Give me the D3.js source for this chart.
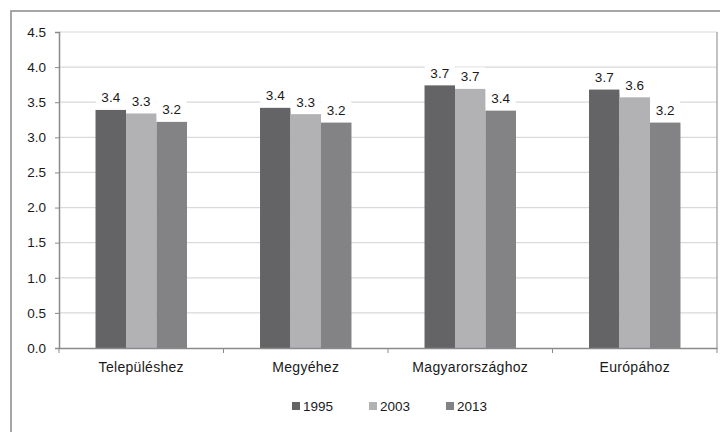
<!DOCTYPE html>
<html>
<head>
<meta charset="utf-8">
<script src="https://cdn.jsdelivr.net/npm/d3@7"></script>
<style>
  body { margin: 0; background: #fff; }
  svg text { font-family: "Liberation Sans", Arial, sans-serif; fill: #1a1a1a; }
</style>
</head>
<body>
<div id="chart"></div>
<script>
(function(){

    var categories = ["Településhez", "Megyéhez", "Magyarországhoz", "Európához"];
    var series = ["1995", "2003", "2013"];
    var values1995 = [3.39, 3.42, 3.74, 3.68];
    var values2003 = [3.34, 3.33, 3.69, 3.57];
    var values2013 = [3.22, 3.21, 3.38, 3.21];
    var yTicks = [0, 0.5, 1, 1.5, 2, 2.5, 3, 3.5, 4, 4.5];
    var colors = ["#646466", "#b2b2b4", "#838385"];

    var allValues = [values1995, values2003, values2013];

    var width = 720, height = 432;
    var left = 59, right = 717, top = 32, bottom = 348;

    var svg = d3.select("#chart")
        .append("svg")
        .attr("width", width)
        .attr("height", height);

    // outer frame (runs off the right and bottom edges)
    svg.append("rect")
        .attr("x", 11).attr("y", 11)
        .attr("width", 720).attr("height", 440)
        .attr("fill", "none")
        .attr("stroke", "#909090")
        .attr("stroke-width", 1.6);

    var y = d3.scaleLinear().domain([0, 4.5]).range([bottom, top]);
    var x0 = d3.scaleBand().domain(categories).range([left, right]);
    var bw = x0.bandwidth();
    var x1 = d3.scaleBand().domain(series).range([bw * 0.222, bw * 0.778]);

    // gridlines
    svg.append("g")
        .selectAll("line")
        .data(yTicks.filter(function(d){ return d > 0; }))
        .enter()
        .append("line")
        .attr("x1", left).attr("x2", right)
        .attr("y1", function(d){ return y(d); })
        .attr("y2", function(d){ return y(d); })
        .attr("stroke", "#d9d9d9")
        .attr("stroke-width", 1.2);

    // right border of plot
    svg.append("line")
        .attr("x1", right).attr("x2", right)
        .attr("y1", top).attr("y2", bottom)
        .attr("stroke", "#9a9a9a").attr("stroke-width", 1.2);

    // bars
    var groups = svg.append("g")
        .selectAll("g")
        .data(categories)
        .enter()
        .append("g")
        .attr("transform", function(d){ return "translate(" + x0(d) + ",0)"; });

    groups.selectAll("rect")
        .data(function(c, ci){
            return series.map(function(s, si){ return {s: s, si: si, v: allValues[si][ci]}; });
        })
        .enter()
        .append("rect")
        .attr("x", function(d){ return x1(d.s); })
        .attr("width", x1.bandwidth())
        .attr("y", function(d){ return y(d.v); })
        .attr("height", function(d){ return bottom - y(d.v); })
        .attr("fill", function(d){ return colors[d.si]; });

    // value labels with white box
    var lab = groups.selectAll("g.lab")
        .data(function(c, ci){
            return series.map(function(s, si){ return {s: s, si: si, v: allValues[si][ci]}; });
        })
        .enter()
        .append("g")
        .attr("class", "lab")
        .attr("transform", function(d){
            return "translate(" + (x1(d.s) + x1.bandwidth() / 2) + "," + (y(d.v) - 7.5) + ")";
        });

    lab.append("rect")
        .attr("x", -15).attr("y", -14)
        .attr("width", 30).attr("height", 18)
        .attr("fill", "#fff");

    lab.append("text")
        .attr("text-anchor", "middle")
        .attr("font-size", 13.5)
        .text(function(d){ return d3.format(".1f")(d.v); });

    // y axis
    var yAxis = svg.append("g")
        .attr("transform", "translate(" + left + ",0)")
        .call(d3.axisLeft(y).tickValues(yTicks).tickFormat(d3.format(".1f")).tickSize(4).tickPadding(9));
    yAxis.select(".domain").attr("stroke", "#8a8a8a").attr("stroke-width", 1.5);
    yAxis.selectAll(".tick line").attr("stroke", "#8a8a8a");
    yAxis.selectAll("text")
        .attr("font-size", 13.5)
        .attr("font-family", "Liberation Sans, Arial, sans-serif")
        .attr("fill", "#1a1a1a");

    // x axis
    var xAxis = svg.append("g")
        .attr("transform", "translate(0," + bottom + ")")
        .call(d3.axisBottom(x0).tickSize(0).tickPadding(14));
    xAxis.select(".domain").attr("stroke", "#8a8a8a").attr("stroke-width", 1.5);
    xAxis.selectAll("text")
        .attr("font-size", 14)
        .attr("letter-spacing", 0.3)
        .attr("font-family", "Liberation Sans, Arial, sans-serif")
        .attr("fill", "#1a1a1a");

    // category boundary ticks
    svg.append("g")
        .selectAll("line")
        .data(categories.concat(["end"]))
        .enter()
        .append("line")
        .attr("x1", function(d, i){ return left + i * bw; })
        .attr("x2", function(d, i){ return left + i * bw; })
        .attr("y1", bottom).attr("y2", bottom + 5)
        .attr("stroke", "#8a8a8a");

    // legend
    var legendX = [292, 369, 446];
    var legend = svg.selectAll(".legend")
        .data(series)
        .enter()
        .append("g")
        .attr("class", "legend")
        .attr("transform", function(d, i){ return "translate(" + legendX[i] + ",402)"; });

    legend.append("rect")
        .attr("width", 8).attr("height", 8)
        .attr("fill", function(d, i){ return colors[i]; });

    legend.append("text")
        .attr("x", 11).attr("y", 9)
        .attr("font-size", 13.5)
        .text(function(d){ return d; });

})();
</script>
</body>
</html>
